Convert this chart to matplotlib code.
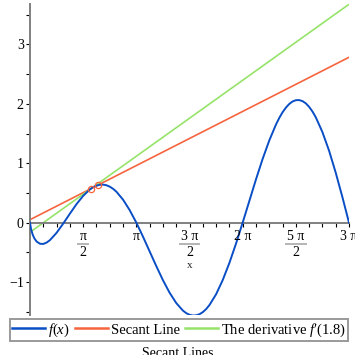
import numpy as np
import matplotlib
matplotlib.use("Agg")
import matplotlib.pyplot as plt
from matplotlib.lines import Line2D
from matplotlib.transforms import ScaledTranslation

plt.rcParams['font.family'] = ['Liberation Serif', 'DejaVu Serif']
plt.rcParams['mathtext.fontset'] = 'custom'
plt.rcParams['mathtext.rm'] = 'Liberation Serif'
plt.rcParams['mathtext.it'] = 'Liberation Serif:italic'

# curve f(x)
fx = [0.0, 0.03, 0.08, 0.13, 0.196, 0.295, 0.393, 0.491, 0.589, 0.785, 0.982, 1.178,
      1.374, 1.571, 1.767, 1.865, 1.963, 2.062, 2.160, 2.258, 2.356, 2.454, 2.553,
      2.749, 2.945, 3.142, 3.338, 3.534, 3.731, 3.927, 4.123, 4.320, 4.516, 4.614,
      4.712, 4.811, 4.909, 5.007, 5.105, 5.203, 5.301, 5.498, 5.694, 5.890, 6.087,
      6.283, 6.480, 6.676, 6.872, 7.069, 7.265, 7.363, 7.461, 7.560, 7.658, 7.756,
      7.854, 7.952, 8.050, 8.149, 8.247, 8.345, 8.443, 8.639, 8.836, 9.032, 9.228,
      9.425]
fy = [0.0, -0.105, -0.202, -0.265, -0.318, -0.355, -0.358, -0.335, -0.294, -0.171,
      -0.015, 0.151, 0.312, 0.452, 0.558, 0.597, 0.623, 0.638, 0.640, 0.630, 0.606,
      0.570, 0.521, 0.387, 0.211, 0.0, -0.235, -0.483, -0.731, -0.967, -1.178, -1.352,
      -1.479, -1.522, -1.550, -1.563, -1.560, -1.541, -1.506, -1.455, -1.387, -1.205,
      -0.966, -0.679, -0.352, 0.0, 0.365, 0.727, 1.071, 1.383, 1.649, 1.761, 1.857,
      1.936, 1.997, 2.039, 2.061, 2.063, 2.046, 2.008, 1.949, 1.871, 1.774, 1.525,
      1.211, 0.842, 0.434, 0.0]

# secant points and derivative
sec_x = [1.8, 2.0]
sec_y = [0.572, 0.630]
deriv_slope = 0.407

xmax = 3 * np.pi
tick_pos = [np.pi / 2, np.pi, 3 * np.pi / 2, 2 * np.pi, 5 * np.pi / 2, 3 * np.pi]
tick_num = ["π", "π", "3 π", "2 π", "5 π", "3 π"]
tick_den = ["2", "", "2", "", "2", ""]

blue = '#0a4ec6'
red = '#f6643e'
green = '#96e36a'
gray = '#808080'

fig = plt.figure(figsize=(3.55, 3.55), dpi=100)
ax = fig.add_axes([30 / 355, 1 - 315 / 355, 319 / 355, 311 / 355])

ax.plot(fx, fy, color=blue, lw=1.4, zorder=3)

m = (sec_y[1] - sec_y[0]) / (sec_x[1] - sec_x[0])
lx = np.array([0, xmax])
ax.plot(lx, sec_y[0] + m * (lx - sec_x[0]), color=red, lw=1.2, zorder=2)
ax.plot(lx, sec_y[0] + deriv_slope * (lx - sec_x[0]), color=green, lw=1.2, zorder=2)
ax.plot(sec_x, sec_y, 'o', mfc='none', mec=red, ms=4.5, mew=0.9, zorder=4)

ax.set_xlim(0, xmax)
ax.set_ylim(-1.554, 3.68)

for s in ['top', 'right']:
    ax.spines[s].set_visible(False)
ax.spines['bottom'].set_position(('data', 0))
for s in ['left', 'bottom']:
    ax.spines[s].set_color(gray)
    ax.spines[s].set_linewidth(1.4)

ax.set_xticks(np.arange(1, 25) * np.pi / 8)
ax.set_xticklabels([])
ax.set_yticks([-1, 0, 1, 2, 3])
ax.set_yticklabels(["−1", "0", "1", "2", "3"])
ax.set_yticks(np.arange(-1.5, 3.6, 0.5), minor=True)
ax.tick_params(axis='both', which='both', direction='out', length=3, width=0.8,
               color='black', labelsize=10, pad=1.5)

# x tick labels as stacked fractions
ppu = ax.bbox.width / xmax
for xv, num, den in zip(tick_pos, tick_num, tick_den):
    ax.annotate(num, xy=(xv, 0), xytext=(0, -10.3), textcoords='offset points',
                ha='center', va='center', fontsize=10, annotation_clip=False)
    if den:
        hw = (5 if len(num) == 1 else 10) / ppu
        tr = ax.transData + ScaledTranslation(0, -21 / 100, fig.dpi_scale_trans)
        ax.plot([xv - hw, xv + hw], [0, 0], color='#b4b4b4', lw=1.4,
                transform=tr, clip_on=False)
        ax.annotate(den, xy=(xv, 0), xytext=(0, -21.2), textcoords='offset points',
                    ha='center', va='center', fontsize=10, annotation_clip=False)

fig.text(189.5 / 355, 1 - 266 / 355, "x", fontsize=8, ha='center', va='center',
         color='#222222')

handles = [Line2D([], [], color=blue, lw=1.8),
           Line2D([], [], color=red, lw=1.8),
           Line2D([], [], color=green, lw=1.8)]
labels = ["$f(x)$", "Secant Line", "The derivative $f$′(1.8)"]
leg = fig.legend(handles, labels, loc='center', bbox_to_anchor=(179 / 355, 1 - 330 / 355),
                 ncol=3, fontsize=10.5, frameon=True, fancybox=False, borderpad=0.15,
                 handlelength=2.25, handletextpad=0.22, columnspacing=0.35,
                 borderaxespad=0)
leg.get_frame().set_edgecolor(gray)
leg.get_frame().set_linewidth(1.4)

fig.text(178 / 355, 1 - 347 / 355, "Secant Lines", fontsize=10, ha='center', va='top')

fig.savefig('out.png', dpi=100)
